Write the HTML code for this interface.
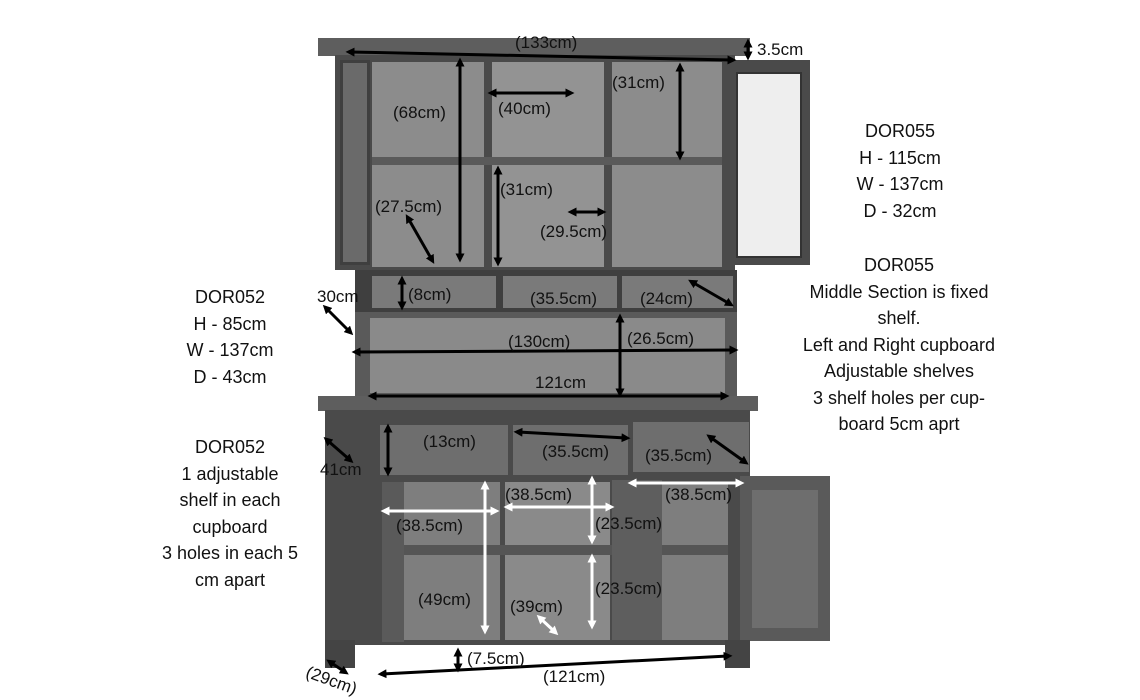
<!DOCTYPE html>
<html><head><meta charset="utf-8">
<style>
body{margin:0;width:1140px;height:700px;background:#fff;position:relative;overflow:hidden;font-family:"Liberation Sans",sans-serif}
.r{position:absolute}
.t{position:absolute;font-size:17px;color:#111;white-space:nowrap;line-height:1}
.side{position:absolute;font-size:18px;color:#111;text-align:center;line-height:26.5px}
svg{position:absolute;left:0;top:0}
</style></head><body>
<div class="r" style="left:318px;top:38px;width:432px;height:18px;background:#5e5e5e"></div>
<div class="r" style="left:335px;top:55px;width:400px;height:215px;background:#4a4a4a"></div>
<div class="r" style="left:372px;top:62px;width:112px;height:205px;background:#8c8c8c"></div>
<div class="r" style="left:492px;top:62px;width:112px;height:205px;background:#939393"></div>
<div class="r" style="left:612px;top:62px;width:110px;height:205px;background:#8c8c8c"></div>
<div class="r" style="left:372px;top:157px;width:350px;height:8px;background:#5a5a5a"></div>
<div class="r" style="left:340px;top:60px;width:30px;height:205px;background:#6a6a6a;border:3px solid #3f3f3f;box-sizing:border-box"></div>
<div class="r" style="left:725px;top:60px;width:85px;height:205px;background:#4a4a4a;"></div>
<div class="r" style="left:736px;top:72px;width:62px;height:182px;background:#eee;border:2px solid #333"></div>
<div class="r" style="left:355px;top:270px;width:382px;height:42px;background:#3f3f3f"></div>
<div class="r" style="left:372px;top:276px;width:124px;height:32px;background:#7a7a7a"></div>
<div class="r" style="left:503px;top:276px;width:114px;height:32px;background:#7a7a7a"></div>
<div class="r" style="left:622px;top:276px;width:111px;height:32px;background:#7a7a7a"></div>
<div class="r" style="left:355px;top:312px;width:382px;height:85px;background:#5a5a5a"></div>
<div class="r" style="left:370px;top:318px;width:355px;height:75px;background:#8a8a8a"></div>
<div class="r" style="left:318px;top:396px;width:440px;height:15px;background:#5e5e5e"></div>
<div class="r" style="left:325px;top:410px;width:425px;height:235px;background:#4a4a4a"></div>
<div class="r" style="left:380px;top:425px;width:128px;height:50px;background:#6e6e6e"></div>
<div class="r" style="left:513px;top:425px;width:115px;height:50px;background:#6e6e6e"></div>
<div class="r" style="left:633px;top:422px;width:116px;height:50px;background:#6e6e6e"></div>
<div class="r" style="left:400px;top:482px;width:100px;height:158px;background:#7e7e7e"></div>
<div class="r" style="left:505px;top:482px;width:105px;height:158px;background:#8a8a8a"></div>
<div class="r" style="left:660px;top:482px;width:68px;height:158px;background:#7e7e7e"></div>
<div class="r" style="left:400px;top:545px;width:328px;height:10px;background:#555"></div>
<div class="r" style="left:382px;top:482px;width:22px;height:160px;background:#5a5a5a"></div>
<div class="r" style="left:612px;top:480px;width:50px;height:160px;background:#5e5e5e"></div>
<div class="r" style="left:740px;top:476px;width:90px;height:165px;background:#5a5a5a"></div>
<div class="r" style="left:752px;top:490px;width:66px;height:138px;background:#6e6e6e"></div>
<div class="r" style="left:325px;top:640px;width:30px;height:28px;background:#444"></div>
<div class="r" style="left:725px;top:640px;width:25px;height:28px;background:#444"></div>

<svg width="1140" height="700">
<defs>
<marker id="a" markerWidth="3" markerHeight="3" refX="1.5" refY="1.5" orient="auto-start-reverse"><path d="M0,0L3,1.5L0,3z" fill="#000"/></marker>
<marker id="b" markerWidth="3" markerHeight="3" refX="1.5" refY="1.5" orient="auto-start-reverse"><path d="M0,0L3,1.5L0,3z" fill="#fff"/></marker>
</defs>
<g stroke="#000" stroke-width="3" marker-start="url(#a)" marker-end="url(#a)">
<line x1="350" y1="52" x2="732" y2="60"/>
<line x1="748" y1="43" x2="748" y2="56"/>
<line x1="492" y1="93" x2="570" y2="93"/>
<line x1="680" y1="67" x2="680" y2="156"/>
<line x1="460" y1="62" x2="460" y2="258"/>
<line x1="498" y1="170" x2="498" y2="262"/>
<line x1="408" y1="218" x2="432" y2="260"/>
<line x1="572" y1="212" x2="602" y2="212"/>
<line x1="402" y1="280" x2="402" y2="306"/>
<line x1="692" y1="282" x2="730" y2="304"/>
<line x1="326" y1="308" x2="350" y2="332"/>
<line x1="356" y1="352" x2="734" y2="350"/>
<line x1="620" y1="318" x2="620" y2="393"/>
<line x1="372" y1="396" x2="725" y2="396"/>
<line x1="388" y1="428" x2="388" y2="472"/>
<line x1="518" y1="432" x2="626" y2="438"/>
<line x1="710" y1="437" x2="745" y2="462"/>
<line x1="327" y1="440" x2="350" y2="460"/>
<line x1="458" y1="652" x2="458" y2="668"/>
<line x1="382" y1="674" x2="728" y2="656"/>
<line x1="330" y1="662" x2="345" y2="672"/>
</g>
<g stroke="#fff" stroke-width="3" marker-start="url(#b)" marker-end="url(#b)">
<line x1="385" y1="511" x2="495" y2="511"/>
<line x1="485" y1="485" x2="485" y2="630"/>
<line x1="508" y1="507" x2="610" y2="507"/>
<line x1="592" y1="480" x2="592" y2="540"/>
<line x1="592" y1="558" x2="592" y2="625"/>
<line x1="540" y1="618" x2="555" y2="632"/>
<line x1="632" y1="483" x2="740" y2="483"/>
</g>
</svg>

<div class="t" style="left:515px;top:34px">(133cm)</div>
<div class="t" style="left:757px;top:41px">3.5cm</div>
<div class="t" style="left:393px;top:104px">(68cm)</div>
<div class="t" style="left:498px;top:100px">(40cm)</div>
<div class="t" style="left:612px;top:74px">(31cm)</div>
<div class="t" style="left:500px;top:181px">(31cm)</div>
<div class="t" style="left:375px;top:198px">(27.5cm)</div>
<div class="t" style="left:540px;top:223px">(29.5cm)</div>
<div class="t" style="left:408px;top:286px">(8cm)</div>
<div class="t" style="left:530px;top:290px">(35.5cm)</div>
<div class="t" style="left:640px;top:290px">(24cm)</div>
<div class="t" style="left:317px;top:288px">30cm</div>
<div class="t" style="left:508px;top:333px">(130cm)</div>
<div class="t" style="left:627px;top:330px">(26.5cm)</div>
<div class="t" style="left:535px;top:374px">121cm</div>
<div class="t" style="left:423px;top:433px">(13cm)</div>
<div class="t" style="left:542px;top:443px">(35.5cm)</div>
<div class="t" style="left:645px;top:447px">(35.5cm)</div>
<div class="t" style="left:320px;top:461px">41cm</div>
<div class="t" style="left:505px;top:486px">(38.5cm)</div>
<div class="t" style="left:665px;top:486px">(38.5cm)</div>
<div class="t" style="left:396px;top:517px">(38.5cm)</div>
<div class="t" style="left:595px;top:515px">(23.5cm)</div>
<div class="t" style="left:595px;top:580px">(23.5cm)</div>
<div class="t" style="left:418px;top:591px">(49cm)</div>
<div class="t" style="left:510px;top:598px">(39cm)</div>
<div class="t" style="left:467px;top:650px">(7.5cm)</div>
<div class="t" style="left:543px;top:668px">(121cm)</div>
<div class="t" style="left:305px;top:672px;transform:rotate(20deg)">(29cm)</div>

<div class="side" style="left:800px;top:118px;width:200px">DOR055<br>H - 115cm<br>W - 137cm<br>D - 32cm</div>
<div class="side" style="left:778px;top:252px;width:242px">DOR055<br>Middle Section is fixed<br>shelf.<br>Left and Right cupboard<br>Adjustable shelves<br>3 shelf holes per cup-<br>board 5cm aprt</div>
<div class="side" style="left:160px;top:284px;width:140px">DOR052<br>H - 85cm<br>W - 137cm<br>D - 43cm</div>
<div class="side" style="left:140px;top:434px;width:180px">DOR052<br>1 adjustable<br>shelf in each<br>cupboard<br>3 holes in each 5<br>cm apart</div>
</body></html>
